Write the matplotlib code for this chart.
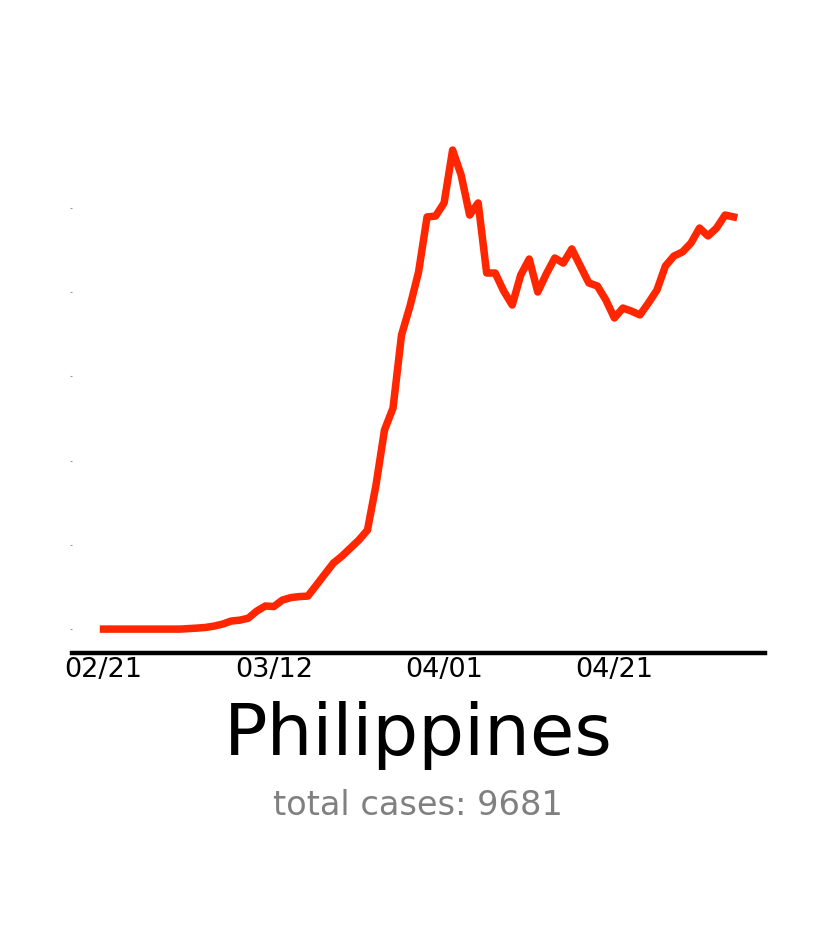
import pandas as pd
import matplotlib
matplotlib.use("Agg")
import matplotlib.pyplot as plt

# daily new cases (smoothed), Philippines, from 2020-02-21
start_date = "2020-02-21"
cases = [0, 0, 0, 0, 0, 0, 0, 0, 0, 0,
         0.3, 0.6, 1.0, 1.8, 3.0, 4.8, 5.3, 6.5, 10.7, 13.7,
         13.4, 17.2, 18.7, 19.3, 19.6, 26.1, 32.7, 39.2, 43.3, 48.1,
         52.9, 58.8, 85.5, 118.2, 131.2, 174.6, 191.8, 212.0, 244.7, 245.2,
         253.0, 284.4, 269.6, 245.8, 253.0, 211.4, 211.4, 200.7, 192.4, 210.2,
         219.7, 200.1, 210.8, 220.3, 217.3, 225.7, 215.6, 205.5, 203.7, 195.4,
         184.7, 190.6, 188.8, 186.5, 193.6, 201.3, 215.6, 221.5, 223.9, 229.2,
         238.1, 233.4, 238.1, 245.8, 244.7]
tick_dates = ["2020-02-21", "2020-03-12", "2020-04-01", "2020-04-21"]
tick_labels = ["02/21", "03/12", "04/01", "04/21"]
country = "Philippines"
total_cases = 9681

dates = pd.date_range(start_date, periods=len(cases), freq="D")

fig = plt.figure(figsize=(8.28, 9.41), dpi=100)
ax = fig.add_axes([0.087, 0.306, 0.837, 0.560])
ax.plot(dates, cases, color="#ff2600", linewidth=5.4)

ax.set_xticks(pd.to_datetime(tick_dates))
ax.set_xticklabels(tick_labels, fontsize=19.5)
ax.tick_params(axis="x", length=0, pad=3)
ax.tick_params(axis="y", length=1.5, width=0.8, color="#999999", labelleft=False)

for side in ["top", "right", "left"]:
    ax.spines[side].set_visible(False)
ax.spines["bottom"].set_linewidth(3.2)

fig.text(0.505, 0.198, country, ha="center", va="baseline", fontsize=52)
fig.text(0.505, 0.134, "total cases: " + str(total_cases), ha="center",
         va="baseline", fontsize=24.2, color="#808080")

fig.savefig("out.png", dpi=100)
